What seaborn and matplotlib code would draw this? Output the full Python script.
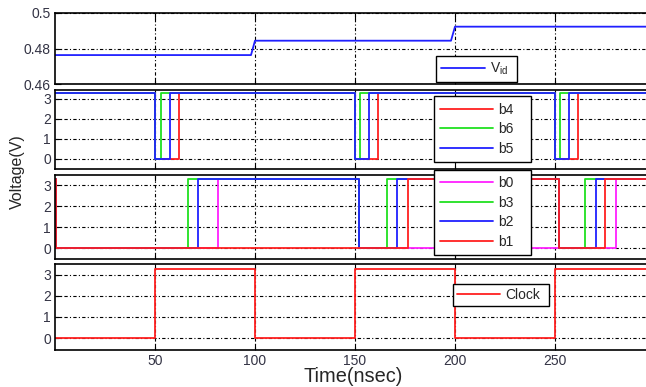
import matplotlib
matplotlib.use("Agg")
import matplotlib.pyplot as plt
import seaborn as sns

# ---- data (time in nsec, level in V) ----
t_vid = [0, 98, 100, 198, 200, 302]
v_vid = [0.4763, 0.4763, 0.4844, 0.4844, 0.4923, 0.4923]

# panel 2 (step signals)
t_b4 = [0, 50, 62, 150, 161.5, 250, 261.3, 302]
v_b4 = [3.3, 0, 3.3, 0, 3.3, 0, 3.3, 3.3]
t_b6 = [0, 50, 53, 150, 152.7, 250, 252.5, 302]
v_b6 = [3.3, 0, 3.3, 0, 3.3, 0, 3.3, 3.3]
t_b5 = [0, 50, 57.5, 150, 157, 250, 256.8, 302]
v_b5 = [3.3, 0, 3.3, 0, 3.3, 0, 3.3, 3.3]

# panel 3
t_b0 = [0, 0.6, 81.7, 152, 280.5, 302]
v_b0 = [3.3, 0, 3.3, 0, 3.3, 3.3]
t_b3 = [0, 0.6, 66.7, 152, 166, 252, 265, 302]
v_b3 = [3.3, 0, 3.3, 0, 3.3, 0, 3.3, 3.3]
t_b2 = [0, 0.6, 71.7, 152, 171, 252, 270.5, 302]
v_b2 = [3.3, 0, 3.3, 0, 3.3, 0, 3.3, 3.3]
t_b1 = [0, 0.6, 176.5, 252, 275, 302]
v_b1 = [3.3, 0, 3.3, 0, 3.3, 3.3]

# panel 4
t_clk = [0, 50, 100, 150, 200, 250, 302]
v_clk = [0, 3.3, 0, 3.3, 0, 3.3, 3.3]

x_ticks = [50, 100, 150, 200, 250]

RED, GREEN, BLUE, MAGENTA = "#ff2020", "#20e020", "#2020ff", "#ff20ff"

sns.set_style("ticks")
plt.rcParams["font.family"] = ["Liberation Sans", "DejaVu Sans"]

fig = plt.figure(figsize=(6.46, 3.87), dpi=100)
W, H = 646, 387
left, width = 55, 604


def make_ax(top, bottom):
    return fig.add_axes([left / W, (H - bottom) / H, width / W, (bottom - top) / H])


def px_box(ax, x0, x1, top, bottom):
    # legend anchor box given in figure pixels -> axes fraction
    pos = ax.get_position()
    ax_l, ax_b = pos.x0 * W, (pos.y0) * H
    ax_w, ax_h = pos.width * W, pos.height * H
    return ((x0 - ax_l) / ax_w, ((H - bottom) - ax_b) / ax_h,
            (x1 - x0) / ax_w, (bottom - top) / ax_h)


ax1 = make_ax(13, 84)
ax2 = make_ax(90, 169)
ax3 = make_ax(175, 259)
ax4 = make_ax(264, 350)

grid_kw = dict(color="black", linestyle=(0, (3, 2, 1, 2)), linewidth=0.8)
leg_kw = dict(frameon=True, fancybox=False, framealpha=1, edgecolor="black",
              fontsize=10, borderaxespad=0, handletextpad=0.35, mode="expand",
              loc="lower left")


def step(ax, t, v, color, label):
    sns.lineplot(x=t, y=v, ax=ax, color=color, drawstyle="steps-post",
                 estimator=None, sort=False, linewidth=1.3, label=label)


sns.lineplot(x=t_vid, y=v_vid, ax=ax1, color=BLUE, estimator=None, sort=False,
             linewidth=1.3, label="V$_{\\mathregular{id}}$")

step(ax2, t_b4, v_b4, RED, "b4")
step(ax2, t_b6, v_b6, GREEN, "b6")
step(ax2, t_b5, v_b5, BLUE, "b5")

step(ax3, t_b0, v_b0, MAGENTA, "b0")
step(ax3, t_b3, v_b3, GREEN, "b3")
step(ax3, t_b2, v_b2, BLUE, "b2")
step(ax3, t_b1, v_b1, RED, "b1")

step(ax4, t_clk, v_clk, RED, "Clock")

ax1.set_ylim(0.46, 0.5)
ax1.set_yticks([0.46, 0.48, 0.5])
ax1.set_yticklabels(["0.46", "0.48", "0.5"])
ax2.set_ylim(-0.5, 3.45)
ax3.set_ylim(-0.52, 3.48)
ax4.set_ylim(-0.57, 3.52)

for ax in (ax1, ax2, ax3, ax4):
    ax.set_xlim(0, 302)
    ax.set_xticks(x_ticks)
    if ax is not ax1:
        ax.set_yticks([0, 1, 2, 3])
    ax.grid(True, **grid_kw)
    ax.tick_params(direction="in", top=True, right=True, length=4,
                   labelsize=10, labelcolor="#333344", colors="black", pad=3)
    for s in ax.spines.values():
        s.set_color("black")
        s.set_linewidth(1.2)
    ax.set_xlabel("")
    ax.set_ylabel("")
    if ax is not ax4:
        ax.tick_params(labelbottom=False)

ax1.legend(bbox_to_anchor=px_box(ax1, 436, 517, 53, 82), handlelength=3.2,
           borderpad=0.35, **leg_kw)
ax2.legend(bbox_to_anchor=px_box(ax2, 434, 531, 99, 162), handlelength=3.8,
           labelspacing=0.4, borderpad=0.45, **leg_kw)
l3 = ax3.legend(bbox_to_anchor=px_box(ax3, 434, 531, 173, 255), handlelength=3.8,
                labelspacing=0.4, borderpad=0.45, **leg_kw)
l3.set_zorder(10)
ax4.legend(bbox_to_anchor=px_box(ax4, 453, 549, 283, 306), handlelength=3.1,
           borderpad=0.3, **leg_kw)

fig.text(17 / W, (H - 172) / H, "Voltage(V)", rotation=90, ha="center",
         va="center", fontsize=11.5)
fig.text(353 / W, (H - 377) / H, "Time(nsec)", ha="center",
         va="center", fontsize=14.4)

fig.savefig("out.png", dpi=100)
